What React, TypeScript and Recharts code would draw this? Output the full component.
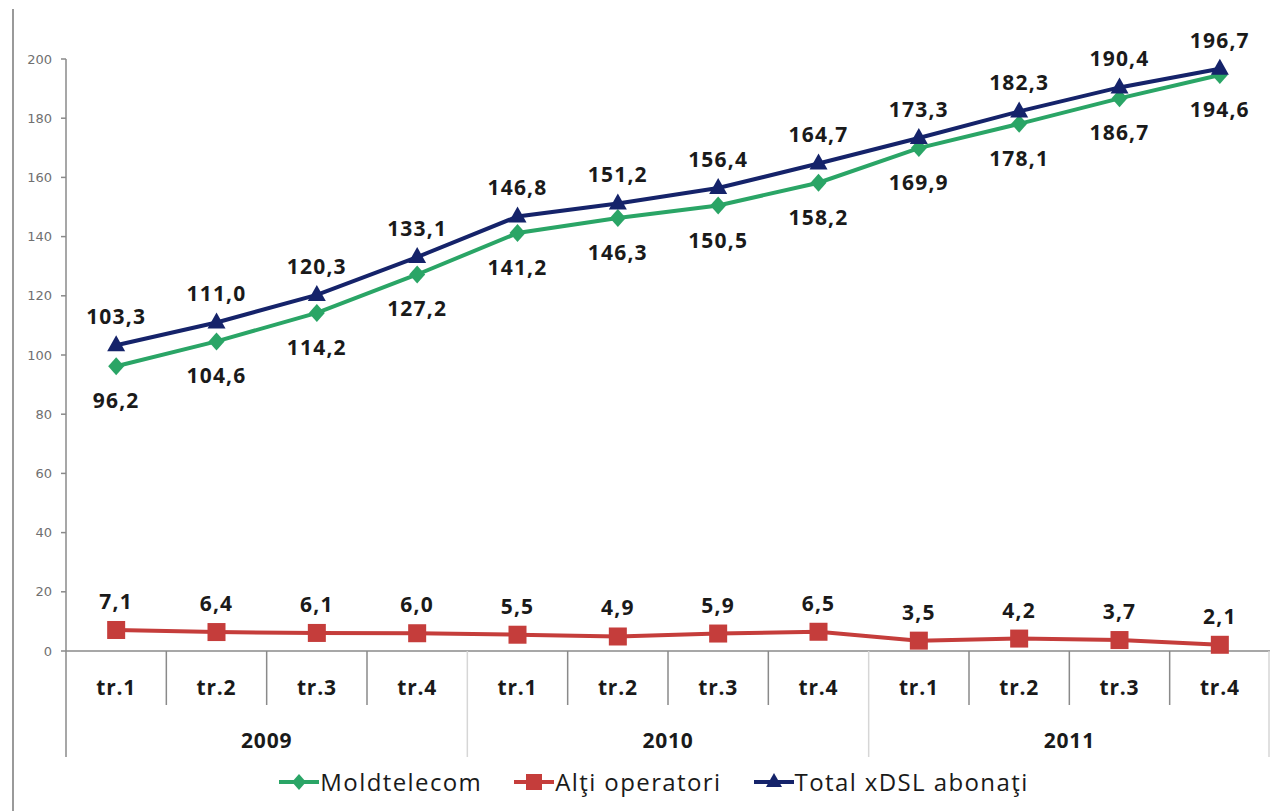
import React from "react";
import { LineChart, Line, XAxis, YAxis, Legend, LabelList } from "recharts";

const quarters = ["tr.1", "tr.2", "tr.3", "tr.4", "tr.1", "tr.2", "tr.3", "tr.4", "tr.1", "tr.2", "tr.3", "tr.4"];
const years = ["2009", "2010", "2011"];
const moldtelecom = [96.2, 104.6, 114.2, 127.2, 141.2, 146.3, 150.5, 158.2, 169.9, 178.1, 186.7, 194.6];
const altiOperatori = [7.1, 6.4, 6.1, 6.0, 5.5, 4.9, 5.9, 6.5, 3.5, 4.2, 3.7, 2.1];
const totalXdsl = [103.3, 111.0, 120.3, 133.1, 146.8, 151.2, 156.4, 164.7, 173.3, 182.3, 190.4, 196.7];
const yTicks = [0, 20, 40, 60, 80, 100, 120, 140, 160, 180, 200];

const data = quarters.map((q, i) => ({
  key: i,
  quarter: q,
  year: years[Math.floor(i / 4)],
  moldtelecom: moldtelecom[i],
  alti: altiOperatori[i],
  total: totalXdsl[i],
}));

const W = 1270;
const H = 811;
const Y_W = 66;
const BAND = (W - Y_W) / data.length;

const GREEN = "#2aa566";
const RED = "#c53d3b";
const NAVY = "#15236a";
const FONT = "'Open Sans', sans-serif";

const fmt = (v: number) => v.toFixed(1).replace(".", ",");

const Diamond = (props: any) => {
  const { cx, cy } = props;
  if (cx == null || cy == null) return null;
  return <path d={`M${cx},${cy - 9} L${cx + 8},${cy} L${cx},${cy + 9} L${cx - 8},${cy} Z`} fill={GREEN} />;
};

const Square = (props: any) => {
  const { cx, cy } = props;
  if (cx == null || cy == null) return null;
  return <rect x={cx - 9} y={cy - 9} width={18} height={18} fill={RED} />;
};

const Triangle = (props: any) => {
  const { cx, cy } = props;
  if (cx == null || cy == null) return null;
  return <path d={`M${cx},${cy - 10} L${cx + 9},${cy + 6} L${cx - 9},${cy + 6} Z`} fill={NAVY} />;
};

const makeLabel = (dy: number) => (props: any) => {
  const vb = props.viewBox || {};
  const x = props.x ?? vb.x;
  const y = props.y ?? vb.y;
  return (
    <text
      x={x}
      y={y + dy}
      textAnchor="middle"
      dominantBaseline="central"
      fontFamily={FONT}
      fontWeight={700}
      fontSize={21}
      letterSpacing={1.2}
      fill="#1a1a1a"
    >
      {fmt(Number(props.value))}
    </text>
  );
};

const QuarterTick = (props: any) => {
  const { x, y, payload } = props;
  const i = payload.index ?? payload.value;
  const row = data[i];
  const left = x - BAND / 2;
  const right = x + BAND / 2;
  return (
    <g>
      {i % 4 === 0 ? (
        <line x1={left} y1={y} x2={left} y2={y + 106} stroke={i === 0 ? "#8a8a8a" : "#d6d6d6"} strokeWidth={1.5} />
      ) : (
        <line x1={left} y1={y} x2={left} y2={y + 54} stroke="#8a8a8a" strokeWidth={1.5} />
      )}
      {i === data.length - 1 && (
        <line x1={right - 1} y1={y} x2={right - 1} y2={y + 106} stroke="#d6d6d6" strokeWidth={1.5} />
      )}
      <text x={x} y={y + 36} textAnchor="middle" dominantBaseline="central" fontFamily={FONT} fontWeight={700} fontSize={21} letterSpacing={0.8} fill="#1a1a1a">
        {row.quarter}
      </text>
      {i % 4 === 1 && (
        <text x={right} y={y + 89} textAnchor="middle" dominantBaseline="central" fontFamily={FONT} fontWeight={700} fontSize={21} letterSpacing={0.8} fill="#1a1a1a">
          {row.year}
        </text>
      )}
    </g>
  );
};

const legendItems = [
  { label: "Moldtelecom", color: GREEN, shape: "diamond" },
  { label: "Alţi operatori", color: RED, shape: "square" },
  { label: "Total xDSL abonaţi", color: NAVY, shape: "triangle" },
];

const LegendMarker = ({ color, shape }: { color: string; shape: string }) => (
  <svg width={40} height={20} style={{ display: "block" }}>
    <line x1={0} y1={10} x2={40} y2={10} stroke={color} strokeWidth={4} />
    {shape === "diamond" && <path d="M20,2 L27,10 L20,18 L13,10 Z" fill={color} />}
    {shape === "square" && <rect x={12} y={2} width={16} height={16} fill={color} />}
    {shape === "triangle" && <path d="M20,1 L28,15 L12,15 Z" fill={color} />}
  </svg>
);

const renderLegend = () => (
  <div style={{ display: "flex", justifyContent: "center", alignItems: "center", paddingLeft: 38, paddingTop: 8, gap: 32 }}>
    {legendItems.map((it) => (
      <div key={it.label} style={{ display: "flex", alignItems: "center" }}>
        <LegendMarker color={it.color} shape={it.shape} />
        <span style={{ fontFamily: FONT, fontSize: 24, letterSpacing: 1.4, color: "#1a1a1a", marginLeft: 1 }}>{it.label}</span>
      </div>
    ))}
  </div>
);

export default function App() {
  return (
    <div style={{ position: "absolute", left: 0, top: 0, width: W, height: H, background: "#fff" }}>
      <div style={{ position: "absolute", left: 12, top: 9, width: 0, height: H - 9, borderLeft: "2px solid #9a9a9a" }} />
      <LineChart width={W} height={H} data={data} margin={{ top: 59, right: 0, left: 0, bottom: 8 }}>
        <XAxis
          dataKey="key"
          type="category"
          scale="band"
          interval={0}
          height={106}
          tickSize={0}
          tickMargin={0}
          tickLine={false}
          stroke="#8a8a8a"
          strokeWidth={1.5}
          tick={<QuarterTick />}
        />
        <YAxis
          width={Y_W}
          domain={[0, 200]}
          ticks={yTicks}
          interval={0}
          tickSize={5}
          tickMargin={9}
          stroke="#8a8a8a"
          strokeWidth={1.5}
          tick={{ fontFamily: "'DejaVu Sans', sans-serif", fontSize: 13, fill: "#707070" }}
        />
        <Legend verticalAlign="bottom" height={46} content={renderLegend} />
        <Line type="linear" dataKey="moldtelecom" stroke={GREEN} strokeWidth={4} dot={<Diamond />} activeDot={false} isAnimationActive={false}>
          <LabelList dataKey="moldtelecom" content={makeLabel(34)} />
        </Line>
        <Line type="linear" dataKey="alti" stroke={RED} strokeWidth={4} dot={<Square />} activeDot={false} isAnimationActive={false}>
          <LabelList dataKey="alti" content={makeLabel(-29)} />
        </Line>
        <Line type="linear" dataKey="total" stroke={NAVY} strokeWidth={4} dot={<Triangle />} activeDot={false} isAnimationActive={false}>
          <LabelList dataKey="total" content={makeLabel(-29)} />
        </Line>
      </LineChart>
    </div>
  );
}
